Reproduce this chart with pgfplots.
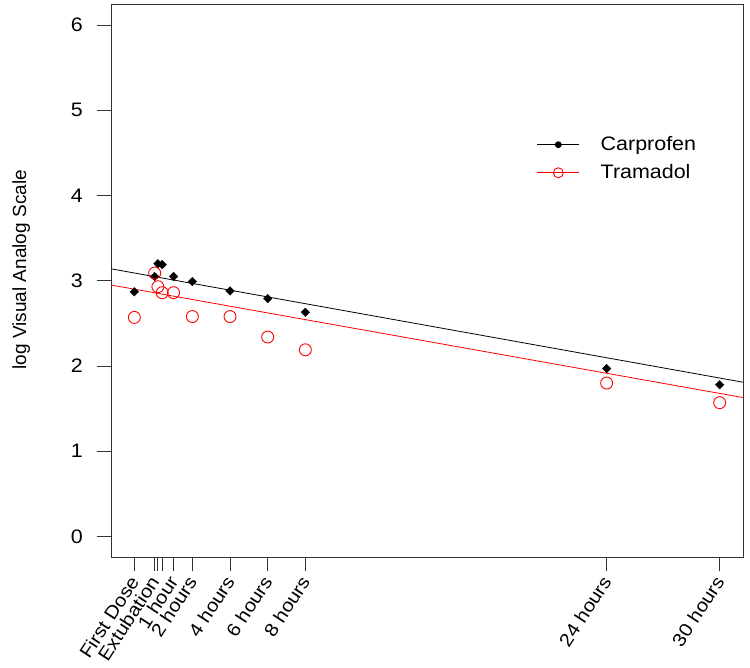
\documentclass[border=0pt]{standalone}
\usepackage{pgfplots}
\pgfplotsset{compat=1.18}
\usepackage{fontspec}
\setmainfont{Liberation Sans}[FakeStretch=1.1]
\newfontfamily\plainfont{Liberation Sans}
\begin{document}
\fontsize{19.5bp}{22bp}\selectfont
\begin{tikzpicture}
\useasboundingbox (0,0) rectangle (750bp,668bp);
\begin{axis}[
  at={(111bp,111bp)}, anchor=south west,
  scale only axis, width=632bp, height=552.5bp,
  xmin=-2.32, xmax=31.24, ymin=-0.24, ymax=6.24,
  xtick={-1.08,0,0.17,0.4,1,2,4,6,8,24,30},
  xticklabels={First Dose,Extubation,,,1 hour,2 hours,4 hours,6 hours,8 hours,24 hours,30 hours},
  ytick={0,1,2,3,4,5,6},
  xtick pos=left, ytick pos=left,
  tick align=outside, major tick length=14bp,
  tick style={black!80, line width=0.8bp},
  axis line style={black!80, line width=0.8bp},
  /pgf/number format/assume math mode=true,
  tick label style={font=\fontsize{19.5bp}{22bp}\selectfont},
  xticklabel style={rotate=57, anchor=east, inner sep=0pt, font=\fontsize{18.5bp}{21bp}\selectfont},
  xticklabel shift=7bp,
  yticklabel style={inner sep=0pt, xshift=-14bp},
  ylabel={log Visual Analog Scale},
  ylabel style={at={(axis description cs:-0.142,0.52)}, anchor=center, font=\plainfont\fontsize{19bp}{22bp}\selectfont},
  legend style={draw=none, fill=none, at={(0.6736,0.762)}, anchor=north west, inner sep=0pt, row sep=11bp, column sep=21bp,
    nodes={inner sep=0pt, anchor=west}, font=\fontsize{19.5bp}{22bp}\selectfont},
  legend cell align=left,
  legend image code/.code={\draw[mark repeat=2,mark phase=2,#1] plot coordinates {(0bp,0bp) (21bp,0bp) (42bp,0bp)};},
]
\addplot[black, line width=0.8bp, forget plot] coordinates {(-2.32,3.14) (31.24,1.81)};
\addplot[red, line width=0.8bp, forget plot] coordinates {(-2.32,2.95) (31.24,1.63)};
\addplot[only marks, mark=square*, mark size=3bp, mark options={rotate=45, black, fill=black}, forget plot] coordinates {
(-1.08,2.87) (0,3.05) (0.17,3.20) (0.4,3.19) (1,3.05) (2,2.99) (4,2.88) (6,2.79) (8,2.63) (24,1.97) (30,1.78)};
\addplot[only marks, red, mark=o, mark size=6bp, mark options={line width=0.9bp}, forget plot] coordinates {
(-1.08,2.57) (0,3.09) (0.17,2.93) (0.4,2.86) (1,2.86) (2,2.58) (4,2.58) (6,2.34) (8,2.19) (24,1.80) (30,1.57)};
\addlegendimage{black, line width=0.8bp, mark=*, mark size=3bp}
\addlegendentry{Carprofen}
\addlegendimage{red, line width=0.8bp, mark=o, mark size=5bp, mark options={line width=0.9bp}}
\addlegendentry{Tramadol}
\end{axis}
\end{tikzpicture}
\end{document}
